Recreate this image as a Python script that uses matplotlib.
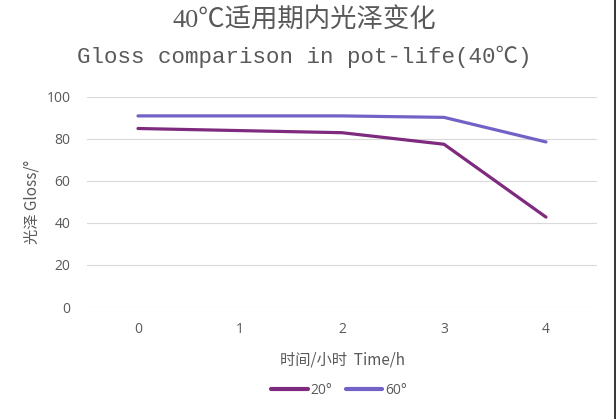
import matplotlib
matplotlib.use("Agg")
import matplotlib.pyplot as plt
from matplotlib.patches import Rectangle

# data
hours = [0, 1, 2, 3, 4]
gloss_20 = [85, 84, 83, 77.5, 42.8]
gloss_60 = [91, 91, 91, 90.3, 78.6]
series_labels = ["20°", "60°"]
y_ticks = [0, 20, 40, 60, 80, 100]

COLOR_20 = "#7E2A7E"
COLOR_60 = "#7262C6"
TEXT_GREY = "#595959"

fig = plt.figure(figsize=(6.16, 4.19), dpi=100)
ax = fig.add_axes([87 / 616, 1 - 307 / 419, 510 / 616, 210 / 419])

ax.plot(hours, gloss_20, color=COLOR_20, linewidth=2.3, solid_capstyle="round",
        label=series_labels[0])
ax.plot(hours, gloss_60, color=COLOR_60, linewidth=2.3, solid_capstyle="round",
        label=series_labels[1])

ax.set_xlim(-0.5, 4.5)
ax.set_ylim(0, 100)
ax.set_yticks(y_ticks)
ax.set_xticks(hours)
ax.grid(axis="y", color="#D9D9D9", linewidth=0.8)
ax.set_axisbelow(True)
for s in ax.spines.values():
    s.set_visible(False)
ax.tick_params(length=0, colors=TEXT_GREY, labelsize=10)
ax.tick_params(axis="x", pad=11)
ax.tick_params(axis="y", pad=12)
for lab in ax.get_xticklabels() + ax.get_yticklabels():
    lab.set_family(["Open Sans", "DejaVu Sans"])

ax.set_xlabel("时间/小时  Time/h", family=["Noto Sans CJK SC", "DejaVu Sans"],
              fontsize=11, color=TEXT_GREY, labelpad=10)
ax.set_ylabel("光泽 Gloss/°", family=["Noto Sans CJK SC", "DejaVu Sans"],
              fontsize=11, color=TEXT_GREY, labelpad=4)

fig.text(304 / 616, 1 - 20 / 419, "40℃适用期内光泽变化",
         family=["Liberation Serif", "Noto Sans CJK SC"], fontsize=19,
         fontweight="light", color=TEXT_GREY, ha="center", va="center")
fig.text(304 / 616, 1 - 57 / 419, "Gloss comparison in pot-life(40℃)",
         family=["Liberation Mono", "Noto Sans CJK SC"], fontsize=16.2,
         color=TEXT_GREY, ha="center", va="center")

leg = ax.legend(loc="center", bbox_to_anchor=(339 / 616, 1 - 390 / 419),
                bbox_transform=fig.transFigure, ncol=2, frameon=False,
                handlelength=2.6, handletextpad=0.2, columnspacing=1.0,
                prop={"family": ["Open Sans", "DejaVu Sans"], "size": 10})
for t in leg.get_texts():
    t.set_color(TEXT_GREY)
for h in leg.get_lines():
    h.set_linewidth(3)

# dark strip on the right edge of the reference screenshot
fig.add_artist(Rectangle((614 / 616, 0), 2 / 616, 1, transform=fig.transFigure,
                         color="#3A3A3A", linewidth=0))

fig.savefig("out.png", dpi=100)
